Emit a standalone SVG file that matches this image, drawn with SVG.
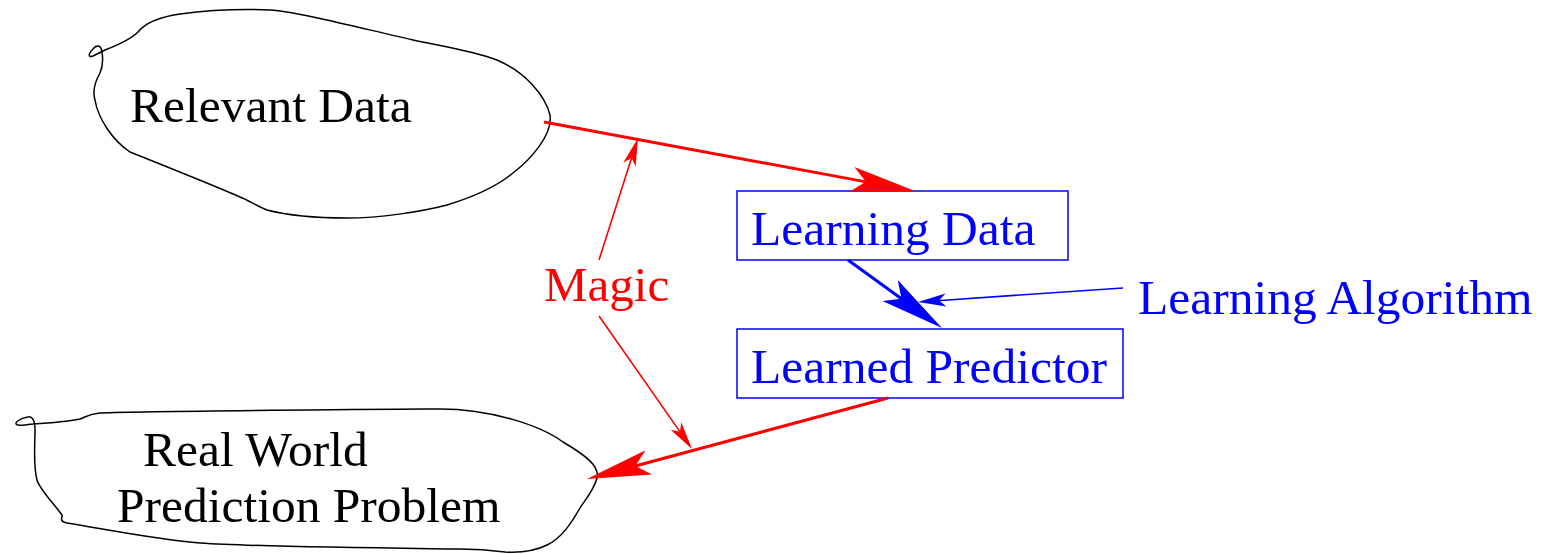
<svg xmlns="http://www.w3.org/2000/svg" width="1551" height="554" viewBox="0 0 1551 554">
  <style>
    .lbl { font-family: "Liberation Serif", "Times New Roman", serif; font-size: 49.5px; }
    .mg { font-size: 49px; }
    .blob { fill: none; stroke: #000; stroke-width: 1.5; stroke-linejoin: round; }
    .box { fill: #fff; stroke: #0000ff; stroke-width: 1.5; }
    .red { fill: #ff0000; }
    .blue { fill: #0000ff; }
    .thickR { fill: none; stroke: #ff0000; stroke-width: 3; }
    .thickB { fill: none; stroke: #0000ff; stroke-width: 3; }
    .thinR { fill: none; stroke: #ff0000; stroke-width: 1.6; }
    .thinB { fill: none; stroke: #0000ff; stroke-width: 1.6; }
  </style>
  <defs>
    <marker id="bigR" markerUnits="userSpaceOnUse" viewBox="-20 -20 80 40" markerWidth="80" markerHeight="40" refX="3" refY="0" orient="auto" overflow="visible">
      <path d="M50,0 L-14,-12.5 L0,0 L-14,12.5 Z" fill="#ff0000"/>
    </marker>
    <marker id="bigB" markerUnits="userSpaceOnUse" viewBox="-20 -20 80 40" markerWidth="80" markerHeight="40" refX="3" refY="0" orient="auto" overflow="visible">
      <path d="M50,0 L-14,-13 L0,0 L-14,13 Z" fill="#0000ff"/>
    </marker>
    <marker id="smallR" markerUnits="userSpaceOnUse" viewBox="-10 -10 40 20" markerWidth="40" markerHeight="20" refX="2" refY="0" orient="auto" overflow="visible">
      <path d="M21,0 L-7,-6.5 L0,0 L-7,6.5 Z" fill="#ff0000"/>
    </marker>
    <marker id="smallB" markerUnits="userSpaceOnUse" viewBox="-10 -10 40 20" markerWidth="40" markerHeight="20" refX="2" refY="0" orient="auto" overflow="visible">
      <path d="M21,0 L-7,-6.5 L0,0 L-7,6.5 Z" fill="#0000ff"/>
    </marker>
  </defs>
  <rect width="1551" height="554" fill="#fff"/>

  <g id="relevant-data">
    <path class="blob" d="M105,50 C118,45 130,40 138,32 C145,23 160,17 180,14 C210,10 245,9 270,10 C300,12 360,28 413,40 C440,46 470,50 497,60 C525,72 545,95 550,115 C553,135 530,160 513,173 C495,188 470,198 447,205 C420,212 380,218 347,218 C320,218 290,216 267,210 C255,205 248,200 240,197 C220,188 170,168 130,152 C112,140 98,118 95,100 C92,90 96,80 100,73 C103,66 103,58 102,52 C101,44 96,45 93,49 C88,54 88,58 93,56 C97,54 101,52 105,50 Z"/>
    <text class="lbl" x="130" y="122" fill="#000">Relevant Data</text>
  </g>

  <g id="real-world">
    <path class="blob" d="M33,424 C50,423 70,421 80,419 C86,417 88,414 100,413 C150,411 300,410 440,409 C490,409 540,425 563,442 C585,455 600,466 597,478 C594,490 585,500 580,508 C572,522 562,538 547,545 C535,551 522,553 505,552 C490,550 475,549 460,549 C380,548 260,547 200,543 C160,540 110,530 67,523 C58,521 63,517 62,515 C55,505 40,490 37,480 C33,465 35,445 35,430 C35,420 32,416 28,417 C20,418 12,424 18,425 C22,426 28,424 33,424 Z"/>
    <text class="lbl" x="143" y="466" fill="#000">Real World</text>
    <text class="lbl" x="117" y="522" fill="#000">Prediction Problem</text>
  </g>

  <g id="learning-data">
    <rect class="box" x="737" y="191" width="331" height="69"/>
    <text class="lbl blue" x="751" y="245">Learning Data</text>
  </g>

  <g id="learned-predictor">
    <rect class="box" x="737" y="329" width="386" height="69"/>
    <text class="lbl blue" x="751" y="383">Learned Predictor</text>
  </g>

  <g id="learning-algorithm">
    <text class="lbl blue" x="1138" y="314">Learning Algorithm</text>
  </g>

  <g id="magic">
    <text class="lbl mg red" x="544" y="301">Magic</text>
  </g>

  <g id="connectors">
    <path class="thickR" d="M544,122 L868.8,182.4" marker-end="url(#bigR)"/>
    <path class="thickB" d="M848,260 L903.9,300.5" marker-end="url(#bigB)"/>
    <path class="thickR" d="M888,398 L632.4,466.8" marker-end="url(#bigR)"/>
    <path class="thinB" d="M1123,288 L937,300.7" marker-end="url(#smallB)"/>
    <path class="thinR" d="M599,260 L632.2,156.1" marker-end="url(#smallR)"/>
    <path class="thinR" d="M599,316 L681.1,433.4" marker-end="url(#smallR)"/>
  </g>
</svg>
